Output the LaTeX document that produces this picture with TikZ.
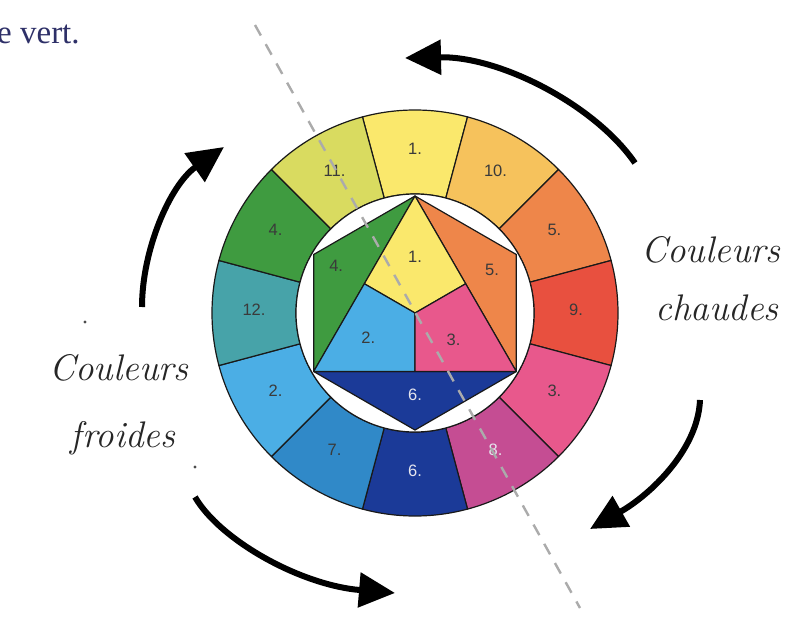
\documentclass[tikz,border=0pt]{standalone}
\usepackage{fontspec}
\newfontfamily\numfont{Liberation Sans}
\newfontfamily\serfont{Liberation Serif}
\usetikzlibrary{arrows.meta}
\definecolor{c1}{HTML}{FAE86C}
\definecolor{c10}{HTML}{F6C25C}
\definecolor{c5}{HTML}{EE864A}
\definecolor{c9}{HTML}{E8503F}
\definecolor{c3}{HTML}{E8588C}
\definecolor{c8}{HTML}{C54D93}
\definecolor{c6}{HTML}{1B3A98}
\definecolor{c7}{HTML}{3089C8}
\definecolor{c2}{HTML}{4BAEE5}
\definecolor{c12}{HTML}{47A3A9}
\definecolor{c4}{HTML}{3F9B40}
\definecolor{c11}{HTML}{D9DB60}
\definecolor{labgray}{HTML}{3A3A3A}
\definecolor{labwhite}{HTML}{E6E6EE}
\definecolor{navy}{HTML}{2E3068}
\definecolor{dashgray}{HTML}{ABABAB}
\begin{document}
\begin{tikzpicture}[x=1pt,y=-1pt,
  seg/.style={draw=black!90, line width=1.2pt, line join=round},
  lab/.style={font=\numfont\fontsize{16.5}{16.5}\selectfont, text=labgray, inner sep=0pt},
  labw/.style={lab, text=labwhite},
  bigarrow/.style={line width=6pt, draw=black, -{Triangle[length=36pt,width=34pt]}},
  scripttext/.style={font=\itshape\fontsize{37}{40}\selectfont, anchor=base, inner sep=0pt, text=black!85},
  dashline/.style={draw=dashgray, line width=2.4pt, dash pattern=on 12pt off 10pt},
  dotmark/.style={fill=black!70}]
\useasboundingbox[fill=white] (0,0) rectangle (796,626);

% top-left text fragment
\node[font=\serfont\fontsize{33}{33}\selectfont, text=navy, anchor=base west, inner sep=0pt] (frag) at (-3,44) {e vert.};

% colour wheel
\begin{scope}[shift={(415,313)}]
  \foreach \i/\c/\tx/\st in {0/c1/1./lab,1/c10/10./lab,2/c5/5./lab,3/c9/9./lab,4/c3/3./lab,5/c8/8./labw,6/c6/6./labw,7/c7/7./lab,8/c2/2./lab,9/c12/12./lab,10/c4/4./lab,11/c11/11./lab}{
    \pgfmathsetmacro\am{90-30*\i}
    \pgfmathsetmacro\aa{\am-15}
    \pgfmathsetmacro\ab{\am+15}
    \filldraw[seg, fill=\c] (\aa:119pt) -- (\aa:203pt) arc[start angle=\aa, end angle=\ab, radius=203pt] -- (\ab:119pt) arc[start angle=\ab, end angle=\aa, radius=119pt] -- cycle;
    \node[\st] (o\i) at ([yshift=3pt]\am:161pt) {\tx};
  }
  \filldraw[fill=white, draw=black!90, line width=1.2pt] (0,0) circle[radius=119pt];
  \coordinate (T) at (90:117pt);
  \coordinate (L) at (210:117pt);
  \coordinate (R) at (330:117pt);
  \coordinate (G) at (150:117pt);
  \coordinate (O) at (30:117pt);
  \coordinate (B) at (270:117pt);
  \coordinate (C) at (0pt,0pt);
  \coordinate (ML) at (150:58.5pt);
  \coordinate (MR) at (30:58.5pt);
  \coordinate (MB) at (270:58.5pt);
  \filldraw[seg, fill=c4] (T) -- (G) -- (L) -- cycle;
  \filldraw[seg, fill=c5] (T) -- (O) -- (R) -- cycle;
  \filldraw[seg, fill=c6] (L) -- (B) -- (R) -- cycle;
  \filldraw[seg, fill=c1] (T) -- (ML) -- (C) -- (MR) -- cycle;
  \filldraw[seg, fill=c2] (L) -- (ML) -- (C) -- (MB) -- cycle;
  \filldraw[seg, fill=c3] (R) -- (MR) -- (C) -- (MB) -- cycle;
  \node[lab] (i1) at (90:56pt) {1.};
  \node[lab] (i4) at (149:92pt) {4.};
  \node[lab] (i5) at (29:88pt) {5.};
  \node[lab] (i2) at (208:53pt) {2.};
  \node[lab] (i3) at (-35:47pt) {3.};
  \node[labw] (i6) at (270:82pt) {6.};
\end{scope}

% dashed axis
\coordinate (d1) at (255,25);
\coordinate (d2) at (580,608);
\draw[dashline] (d1) -- (d2);

% arrows
\coordinate (a1s) at (635,163);
\coordinate (a1e) at (405,58);
\draw[bigarrow] (a1s) .. controls (595,105) and (500,56) .. (a1e);
\coordinate (a2s) at (142,307);
\coordinate (a2e) at (224,147);
\draw[bigarrow] (a2s) .. controls (142,250) and (170,185) .. (a2e);
\coordinate (a3s) at (195,497);
\coordinate (a3e) at (395,593);
\draw[bigarrow] (a3s) .. controls (220,540) and (300,585) .. (a3e);
\coordinate (a4s) at (700,400);
\coordinate (a4e) at (590,529);
\draw[bigarrow] (a4s) .. controls (698,450) and (650,495) .. (a4e);

% labels
\node[scripttext] (lc1) at (119,380) {Couleurs};
\node[scripttext] (lc2) at (123,447) {froides};
\node[scripttext] (rc1) at (711,262) {Couleurs};
\node[scripttext] (rc2) at (717,320) {chaudes};

% stray dots
\fill[dotmark] (85,322) circle[radius=1.6pt];
\fill[dotmark] (195,467) circle[radius=1.6pt];
\end{tikzpicture}
\end{document}
